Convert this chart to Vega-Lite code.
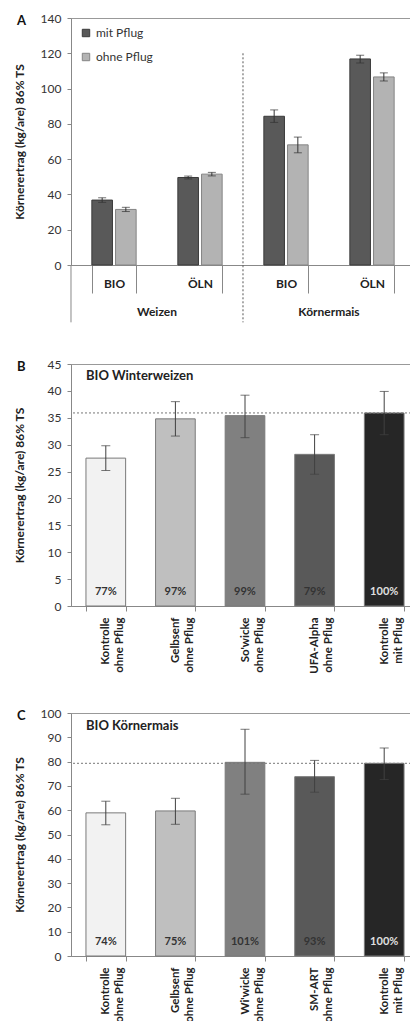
{
  "$schema": "https://vega.github.io/schema/vega-lite/v6.json",
  "padding": {"left": 12, "top": 11, "right": 0, "bottom": 0},
  "background": "white",
  "config": {
    "font": "Lato",
    "view": {"stroke": "#999", "strokeWidth": 1},
    "axis": {"domainColor": "#888", "tickColor": "#888", "labelColor": "#333", "titleColor": "#222", "labelFontSize": 12, "titleFontSize": 12, "grid": false},
    "axisY": {"labelOverlap": false, "tickSize": 4, "labelPadding": 6, "titleFontWeight": "bold"},
    "title": {"fontSize": 13, "fontWeight": "bold", "color": "#111", "anchor": "start", "frame": "bounds", "offset": -16, "dx": 4}
  },
  "datasets": {
    "tillage": [
      {"crop": "Weizen", "cat": "Weizen|BIO", "tillage": "mit Pflug", "value": 36.8, "lo": 35.5, "hi": 38.1},
      {"crop": "Weizen", "cat": "Weizen|BIO", "tillage": "ohne Pflug", "value": 31.5, "lo": 30.3, "hi": 32.7},
      {"crop": "Weizen", "cat": "Weizen|ÖLN", "tillage": "mit Pflug", "value": 49.6, "lo": 48.8, "hi": 50.4},
      {"crop": "Weizen", "cat": "Weizen|ÖLN", "tillage": "ohne Pflug", "value": 51.5, "lo": 50.5, "hi": 52.5},
      {"crop": "Körnermais", "cat": "Körnermais|BIO", "tillage": "mit Pflug", "value": 84.3, "lo": 80.8, "hi": 87.9},
      {"crop": "Körnermais", "cat": "Körnermais|BIO", "tillage": "ohne Pflug", "value": 68.1, "lo": 63.6, "hi": 72.5},
      {"crop": "Körnermais", "cat": "Körnermais|ÖLN", "tillage": "mit Pflug", "value": 116.8, "lo": 114.5, "hi": 118.9},
      {"crop": "Körnermais", "cat": "Körnermais|ÖLN", "tillage": "ohne Pflug", "value": 106.6, "lo": 104.3, "hi": 108.9}
    ],
    "groups": [
      {"crop": "Weizen", "cat": "Weizen|BIO"},
      {"crop": "Körnermais", "cat": "Körnermais|BIO"}
    ],
    "weizen": [
      {"cat": "Kontrolle|ohne Pflug", "value": 27.5, "lo": 25.2, "hi": 29.8, "pct": "77%"},
      {"cat": "Gelbsenf|ohne Pflug", "value": 34.8, "lo": 31.6, "hi": 38.0, "pct": "97%"},
      {"cat": "So'wicke|ohne Pflug", "value": 35.4, "lo": 31.3, "hi": 39.2, "pct": "99%"},
      {"cat": "UFA-Alpha|ohne Pflug", "value": 28.2, "lo": 24.5, "hi": 31.85, "pct": "79%"},
      {"cat": "Kontrolle|mit Pflug", "value": 35.9, "lo": 31.85, "hi": 39.9, "pct": "100%"}
    ],
    "mais": [
      {"cat": "Kontrolle|ohne Pflug", "value": 58.9, "lo": 54.0, "hi": 63.7, "pct": "74%"},
      {"cat": "Gelbsenf|ohne Pflug", "value": 59.7, "lo": 54.2, "hi": 64.9, "pct": "75%"},
      {"cat": "Wi'wicke|ohne Pflug", "value": 79.7, "lo": 66.6, "hi": 93.3, "pct": "101%"},
      {"cat": "SM-ART|ohne Pflug", "value": 73.8, "lo": 67.4, "hi": 80.5, "pct": "93%"},
      {"cat": "Kontrolle|mit Pflug", "value": 79.3, "lo": 72.6, "hi": 85.6, "pct": "100%"}
    ],
    "weizenTitle": [{"cat": "Kontrolle|ohne Pflug", "label": "BIO Winterweizen"}],
    "maisTitle": [{"cat": "Kontrolle|ohne Pflug", "label": "BIO Körnermais"}]
  },
  "bounds": "flush",
  "spacing": 99,
  "resolve": {"scale": {"color": "independent", "stroke": "independent", "x": "independent", "y": "independent"}},
  "vconcat": [
    {
      "width": 344,
      "height": 247,
      "title": {"text": "A"},
      "layer": [
        {
          "data": {"name": "tillage"},
          "mark": {"type": "bar", "strokeWidth": 1},
          "encoding": {
            "x": {"field": "cat", "type": "nominal", "title": null,
              "scale": {"domain": ["Weizen|BIO", "Weizen|ÖLN", "Körnermais|BIO", "Körnermais|ÖLN"], "paddingInner": 0.485, "paddingOuter": 0.2425},
              "axis": {"title": null, "labelExpr": "datum.value ? split(datum.value, '|')[1] : ''", "labelAngle": 0, "tickBand": "extent", "tickSize": 28, "labelPadding": -15, "labelFontWeight": "bold", "labelFontSize": 12, "labelColor": "#222"}},
            "xOffset": {"field": "tillage", "type": "nominal", "scale": {"domain": ["mit Pflug", "ohne Pflug"], "paddingInner": 0.13, "paddingOuter": 0}},
            "y": {"field": "value", "type": "quantitative", "scale": {"domain": [0, 140]},
              "axis": {"title": "Körnerertrag (kg/are) 86% TS", "values": [0, 20, 40, 60, 80, 100, 120, 140], "labelOverlap": false, "titlePadding": 14}},
            "color": {"field": "tillage", "type": "nominal", "scale": {"domain": ["mit Pflug", "ohne Pflug"], "range": ["#595959", "#b3b3b3"]},
              "legend": {"title": null, "orient": "top-left", "offset": 9, "padding": 0, "rowPadding": 12, "symbolType": "square", "symbolSize": 55, "symbolStrokeWidth": 1, "symbolStrokeColor": "#5a5a5a", "labelFontSize": 12, "labelColor": "#333", "labelOffset": 4}},
            "stroke": {"field": "tillage", "type": "nominal", "scale": {"domain": ["mit Pflug", "ohne Pflug"], "range": ["#3a3a3a", "#858585"]}, "legend": null}
          }
        },
        {
          "data": {"name": "tillage"},
          "mark": {"type": "rule", "color": "#333", "strokeWidth": 1},
          "encoding": {
            "x": {"field": "cat", "type": "nominal", "axis": {"title": null}},
            "xOffset": {"field": "tillage", "type": "nominal"},
            "y": {"field": "lo", "type": "quantitative", "axis": {"title": "Körnerertrag (kg/are) 86% TS", "values": [0, 20, 40, 60, 80, 100, 120, 140], "labelOverlap": false, "titlePadding": 14}},
            "y2": {"field": "hi"}
          }
        },
        {
          "data": {"name": "tillage"},
          "mark": {"type": "tick", "color": "#333", "thickness": 1, "size": 8},
          "encoding": {
            "x": {"field": "cat", "type": "nominal", "axis": {"title": null}},
            "xOffset": {"field": "tillage", "type": "nominal"},
            "y": {"field": "lo", "type": "quantitative", "axis": {"title": "Körnerertrag (kg/are) 86% TS", "values": [0, 20, 40, 60, 80, 100, 120, 140], "labelOverlap": false, "titlePadding": 14}}
          }
        },
        {
          "data": {"name": "tillage"},
          "mark": {"type": "tick", "color": "#333", "thickness": 1, "size": 8},
          "encoding": {
            "x": {"field": "cat", "type": "nominal", "axis": {"title": null}},
            "xOffset": {"field": "tillage", "type": "nominal"},
            "y": {"field": "hi", "type": "quantitative", "axis": {"title": "Körnerertrag (kg/are) 86% TS", "values": [0, 20, 40, 60, 80, 100, 120, 140], "labelOverlap": false, "titlePadding": 14}}
          }
        },
        {
          "data": {"name": "groups"},
          "mark": {"type": "text", "fontWeight": "bold", "fontSize": 12, "color": "#222", "baseline": "middle"},
          "encoding": {
            "x": {"field": "cat", "type": "nominal", "bandPosition": 1.471, "axis": {"title": null}},
            "y": {"datum": -26.6, "type": "quantitative", "axis": {"title": "Körnerertrag (kg/are) 86% TS", "values": [0, 20, 40, 60, 80, 100, 120, 140], "labelOverlap": false, "titlePadding": 14}},
            "text": {"field": "crop"}
          }
        },
        {
          "data": {"name": "groups"},
          "transform": [{"filter": "datum.crop === 'Weizen'"}],
          "mark": {"type": "rule", "color": "#888", "strokeWidth": 1},
          "encoding": {
            "x": {"field": "cat", "type": "nominal", "bandPosition": -0.471, "axis": {"title": null}},
            "y": {"datum": 0, "type": "quantitative", "axis": {"title": "Körnerertrag (kg/are) 86% TS", "values": [0, 20, 40, 60, 80, 100, 120, 140], "labelOverlap": false, "titlePadding": 14}},
            "y2": {"datum": -32.5}
          }
        },
        {
          "data": {"name": "groups"},
          "transform": [{"filter": "datum.crop === 'Körnermais'"}],
          "mark": {"type": "rule", "color": "#555", "strokeWidth": 1, "strokeDash": [2, 2]},
          "encoding": {
            "x": {"field": "cat", "type": "nominal", "bandPosition": -0.471, "axis": {"title": null}},
            "y": {"datum": 120, "type": "quantitative", "axis": {"title": "Körnerertrag (kg/are) 86% TS", "values": [0, 20, 40, 60, 80, 100, 120, 140], "labelOverlap": false, "titlePadding": 14}},
            "y2": {"datum": -32.5}
          }
        }
      ]
    },
    {
      "bounds": "flush",
      "spacing": 107,
      "resolve": {"scale": {"color": "independent", "x": "independent", "y": "independent"}},
      "vconcat": [
        {
          "width": 348,
          "height": 242,
          "title": {"text": "B"},
          "layer": [
            {
              "data": {"name": "weizen"},
              "mark": {"type": "bar", "stroke": "#7a7a7a", "strokeWidth": 1},
              "encoding": {
                "x": {"field": "cat", "type": "nominal", "title": null,
                  "scale": {"domain": ["Kontrolle|ohne Pflug", "Gelbsenf|ohne Pflug", "So'wicke|ohne Pflug", "UFA-Alpha|ohne Pflug", "Kontrolle|mit Pflug"], "paddingInner": 0.43, "paddingOuter": 0.215},
                  "axis": {"title": null, "labelExpr": "datum.value ? split(datum.value, '|') : ''", "labelAngle": -90, "labelAlign": "right", "labelBaseline": "middle", "labelLineHeight": 14, "tickBand": "extent", "tickSize": 5, "labelPadding": 6, "labelFontWeight": "bold", "labelFontSize": 11.5, "labelColor": "#222"}},
                "y": {"field": "value", "type": "quantitative", "scale": {"domain": [0, 45]},
                  "axis": {"title": "Körnerertrag (kg/are) 86% TS", "values": [0, 5, 10, 15, 20, 25, 30, 35, 40, 45], "labelOverlap": false, "titlePadding": 21}},
                "color": {"field": "cat", "type": "nominal", "legend": null,
                  "scale": {"domain": ["Kontrolle|ohne Pflug", "Gelbsenf|ohne Pflug", "So'wicke|ohne Pflug", "UFA-Alpha|ohne Pflug", "Kontrolle|mit Pflug"], "range": ["#f2f2f2", "#bfbfbf", "#808080", "#595959", "#262626"]}}
              }
            },
            {
              "data": {"name": "weizen"},
              "transform": [{"filter": "datum.cat === 'Kontrolle|mit Pflug'"}],
              "mark": {"type": "rule", "color": "#777", "strokeWidth": 1, "strokeDash": [2, 2]},
              "encoding": {
                "y": {"field": "value", "type": "quantitative", "axis": {"title": "Körnerertrag (kg/are) 86% TS", "values": [0, 5, 10, 15, 20, 25, 30, 35, 40, 45], "labelOverlap": false, "titlePadding": 21}}
              }
            },
            {
              "data": {"name": "weizen"},
              "mark": {"type": "rule", "color": "#404040", "strokeWidth": 1},
              "encoding": {
                "x": {"field": "cat", "type": "nominal", "axis": {"title": null}},
                "y": {"field": "lo", "type": "quantitative", "axis": {"title": "Körnerertrag (kg/are) 86% TS", "values": [0, 5, 10, 15, 20, 25, 30, 35, 40, 45], "labelOverlap": false, "titlePadding": 21}},
                "y2": {"field": "hi"}
              }
            },
            {
              "data": {"name": "weizen"},
              "mark": {"type": "tick", "color": "#404040", "thickness": 1, "size": 9},
              "encoding": {
                "x": {"field": "cat", "type": "nominal", "axis": {"title": null}},
                "y": {"field": "lo", "type": "quantitative", "axis": {"title": "Körnerertrag (kg/are) 86% TS", "values": [0, 5, 10, 15, 20, 25, 30, 35, 40, 45], "labelOverlap": false, "titlePadding": 21}}
              }
            },
            {
              "data": {"name": "weizen"},
              "mark": {"type": "tick", "color": "#404040", "thickness": 1, "size": 9},
              "encoding": {
                "x": {"field": "cat", "type": "nominal", "axis": {"title": null}},
                "y": {"field": "hi", "type": "quantitative", "axis": {"title": "Körnerertrag (kg/are) 86% TS", "values": [0, 5, 10, 15, 20, 25, 30, 35, 40, 45], "labelOverlap": false, "titlePadding": 21}}
              }
            },
            {
              "data": {"name": "weizen"},
              "mark": {"type": "text", "fontWeight": "bold", "fontSize": 11, "baseline": "middle"},
              "encoding": {
                "x": {"field": "cat", "type": "nominal", "axis": {"title": null}},
                "y": {"datum": 2.6, "type": "quantitative", "axis": {"title": "Körnerertrag (kg/are) 86% TS", "values": [0, 5, 10, 15, 20, 25, 30, 35, 40, 45], "labelOverlap": false, "titlePadding": 21}},
                "text": {"field": "pct"},
                "color": {"condition": {"test": "datum.cat === 'Kontrolle|mit Pflug'", "value": "#e0e0e0"}, "value": "#333"}
              }
            },
            {
              "data": {"name": "weizenTitle"},
              "mark": {"type": "text", "fontWeight": "bold", "fontSize": 13, "align": "left", "baseline": "middle", "color": "#222"},
              "encoding": {
                "x": {"field": "cat", "type": "nominal", "bandPosition": 0, "axis": {"title": null}},
                "y": {"datum": 42.8, "type": "quantitative", "axis": {"title": "Körnerertrag (kg/are) 86% TS", "values": [0, 5, 10, 15, 20, 25, 30, 35, 40, 45], "labelOverlap": false, "titlePadding": 21}},
                "text": {"field": "label"}
              }
            }
          ]
        },
        {
          "width": 348,
          "height": 243,
          "title": {"text": "C"},
          "layer": [
            {
              "data": {"name": "mais"},
              "mark": {"type": "bar", "stroke": "#7a7a7a", "strokeWidth": 1},
              "encoding": {
                "x": {"field": "cat", "type": "nominal", "title": null,
                  "scale": {"domain": ["Kontrolle|ohne Pflug", "Gelbsenf|ohne Pflug", "Wi'wicke|ohne Pflug", "SM-ART|ohne Pflug", "Kontrolle|mit Pflug"], "paddingInner": 0.43, "paddingOuter": 0.215},
                  "axis": {"title": null, "labelExpr": "datum.value ? split(datum.value, '|') : ''", "labelAngle": -90, "labelAlign": "right", "labelBaseline": "middle", "labelLineHeight": 14, "tickBand": "extent", "tickSize": 5, "labelPadding": 6, "labelFontWeight": "bold", "labelFontSize": 11.5, "labelColor": "#222"}},
                "y": {"field": "value", "type": "quantitative", "scale": {"domain": [0, 100]},
                  "axis": {"title": "Körnerertrag (kg/are) 86% TS", "values": [0, 10, 20, 30, 40, 50, 60, 70, 80, 90, 100], "labelOverlap": false, "titlePadding": 14}},
                "color": {"field": "cat", "type": "nominal", "legend": null,
                  "scale": {"domain": ["Kontrolle|ohne Pflug", "Gelbsenf|ohne Pflug", "Wi'wicke|ohne Pflug", "SM-ART|ohne Pflug", "Kontrolle|mit Pflug"], "range": ["#f2f2f2", "#bfbfbf", "#808080", "#595959", "#262626"]}}
              }
            },
            {
              "data": {"name": "mais"},
              "transform": [{"filter": "datum.cat === 'Kontrolle|mit Pflug'"}],
              "mark": {"type": "rule", "color": "#777", "strokeWidth": 1, "strokeDash": [2, 2]},
              "encoding": {
                "y": {"field": "value", "type": "quantitative", "axis": {"title": "Körnerertrag (kg/are) 86% TS", "values": [0, 10, 20, 30, 40, 50, 60, 70, 80, 90, 100], "labelOverlap": false, "titlePadding": 14}}
              }
            },
            {
              "data": {"name": "mais"},
              "mark": {"type": "rule", "color": "#404040", "strokeWidth": 1},
              "encoding": {
                "x": {"field": "cat", "type": "nominal", "axis": {"title": null}},
                "y": {"field": "lo", "type": "quantitative", "axis": {"title": "Körnerertrag (kg/are) 86% TS", "values": [0, 10, 20, 30, 40, 50, 60, 70, 80, 90, 100], "labelOverlap": false, "titlePadding": 14}},
                "y2": {"field": "hi"}
              }
            },
            {
              "data": {"name": "mais"},
              "mark": {"type": "tick", "color": "#404040", "thickness": 1, "size": 9},
              "encoding": {
                "x": {"field": "cat", "type": "nominal", "axis": {"title": null}},
                "y": {"field": "lo", "type": "quantitative", "axis": {"title": "Körnerertrag (kg/are) 86% TS", "values": [0, 10, 20, 30, 40, 50, 60, 70, 80, 90, 100], "labelOverlap": false, "titlePadding": 14}}
              }
            },
            {
              "data": {"name": "mais"},
              "mark": {"type": "tick", "color": "#404040", "thickness": 1, "size": 9},
              "encoding": {
                "x": {"field": "cat", "type": "nominal", "axis": {"title": null}},
                "y": {"field": "hi", "type": "quantitative", "axis": {"title": "Körnerertrag (kg/are) 86% TS", "values": [0, 10, 20, 30, 40, 50, 60, 70, 80, 90, 100], "labelOverlap": false, "titlePadding": 14}}
              }
            },
            {
              "data": {"name": "mais"},
              "mark": {"type": "text", "fontWeight": "bold", "fontSize": 11, "baseline": "middle"},
              "encoding": {
                "x": {"field": "cat", "type": "nominal", "axis": {"title": null}},
                "y": {"datum": 5.8, "type": "quantitative", "axis": {"title": "Körnerertrag (kg/are) 86% TS", "values": [0, 10, 20, 30, 40, 50, 60, 70, 80, 90, 100], "labelOverlap": false, "titlePadding": 14}},
                "text": {"field": "pct"},
                "color": {"condition": {"test": "datum.cat === 'Kontrolle|mit Pflug'", "value": "#e0e0e0"}, "value": "#333"}
              }
            },
            {
              "data": {"name": "maisTitle"},
              "mark": {"type": "text", "fontWeight": "bold", "fontSize": 13, "align": "left", "baseline": "middle", "color": "#222"},
              "encoding": {
                "x": {"field": "cat", "type": "nominal", "bandPosition": 0, "axis": {"title": null}},
                "y": {"datum": 94.6, "type": "quantitative", "axis": {"title": "Körnerertrag (kg/are) 86% TS", "values": [0, 10, 20, 30, 40, 50, 60, 70, 80, 90, 100], "labelOverlap": false, "titlePadding": 14}},
                "text": {"field": "label"}
              }
            }
          ]
        }
      ]
    }
  ]
}
